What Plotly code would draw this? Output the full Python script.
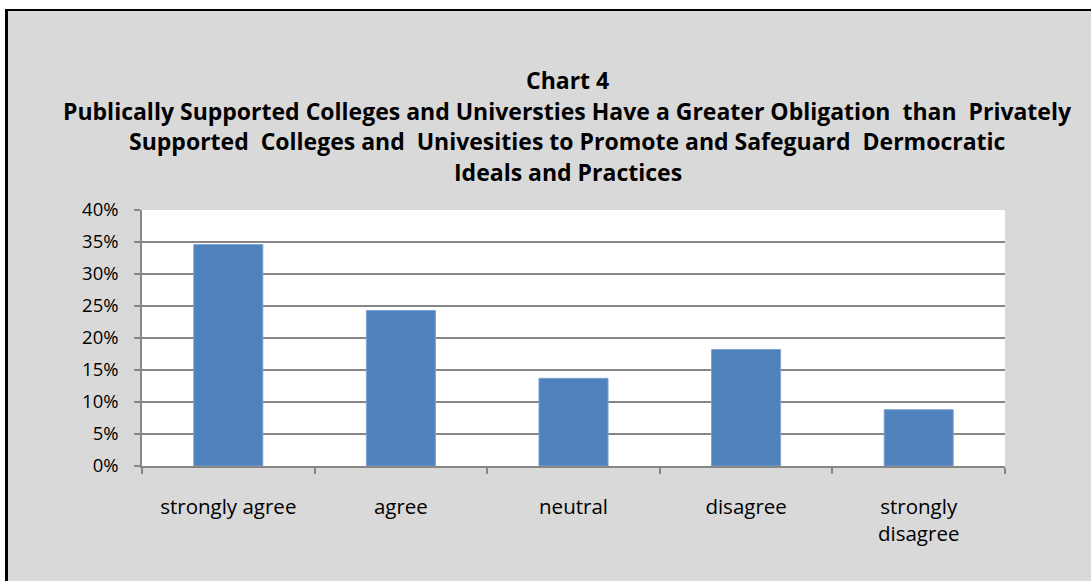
import plotly.graph_objects as go

categories = ["strongly agree", "agree", "neutral", "disagree", "strongly disagree"]
tick_labels = ["strongly agree", "agree", "neutral", "disagree", "strongly<br>disagree"]
values = [0.346, 0.243, 0.137, 0.182, 0.088]
title_lines = [
    "Chart 4",
    "Publically Supported Colleges and Universties Have a Greater Obligation \u00a0than \u00a0Privately",
    "Supported \u00a0Colleges and \u00a0Univesities to Promote and Safeguard \u00a0Dermocratic",
    "Ideals and Practices",
]

W, H = 1091, 581
L, R, T, B = 142, 86, 210, 115
PW, PH = W - L - R, H - T - B

def px2x(px):
    return (px - L) / PW

def py2y(py):
    return (H - B - py) / PH

FONT = "Open Sans"

fig = go.Figure()
fig.add_trace(go.Bar(
    x=categories, y=values,
    marker=dict(color="#4f81bd", line=dict(color="#7ea2d3", width=1)),
    width=0.4,
))

fig.update_layout(
    width=W, height=H,
    margin=dict(l=L, r=R, t=T, b=B),
    paper_bgcolor="#d9d9d9",
    plot_bgcolor="#ffffff",
    showlegend=False,
    font=dict(family=FONT, color="#000000"),
    xaxis=dict(
        type="category",
        tickmode="array", tickvals=categories, ticktext=tick_labels,
        tickson="boundaries",
        ticks="outside", ticklen=6, tickcolor="#868686", tickwidth=1.5,
        showline=True, linecolor="#868686", linewidth=1.5,
        showgrid=False,
        tickfont=dict(family=FONT, size=20.5, color="#000000"),
        ticklabelstandoff=22,
        range=[-0.5, 4.5],
    ),
    yaxis=dict(
        range=[0, 0.4], dtick=0.05, tickformat=".0%",
        ticks="outside", ticklen=6, tickcolor="#868686", tickwidth=1.5,
        showline=True, linecolor="#868686", linewidth=1.5,
        showgrid=True, gridcolor="#868686", gridwidth=1.5,
        zeroline=False,
        tickfont=dict(family=FONT, size=18.5, color="#000000"),
        ticklabelstandoff=12,
    ),
    bargap=0.6,
)

# title, one annotation per line
line_centers = [80, 110.5, 141, 171.5]
for txt, yc in zip(title_lines, line_centers):
    fig.add_annotation(
        text=txt, xref="paper", yref="paper",
        x=px2x(567.5), y=py2y(yc), xanchor="center", yanchor="middle",
        showarrow=False,
        font=dict(family=FONT, size=23, color="#000000", weight="bold"),
    )

# white margin outside the chart frame, and the black frame itself
fig.add_shape(type="rect", xref="paper", yref="paper",
              x0=px2x(-20), x1=px2x(5), y0=py2y(H + 20), y1=py2y(-20),
              fillcolor="#ffffff", line=dict(width=0), layer="above")
fig.add_shape(type="rect", xref="paper", yref="paper",
              x0=px2x(-20), x1=px2x(W + 20), y0=py2y(9), y1=py2y(-20),
              fillcolor="#ffffff", line=dict(width=0), layer="above")
fig.add_shape(type="line", xref="paper", yref="paper",
              x0=px2x(6.5), x1=px2x(6.5), y0=py2y(9), y1=py2y(H + 20),
              line=dict(color="#000000", width=3), layer="above")
fig.add_shape(type="line", xref="paper", yref="paper",
              x0=px2x(5), x1=px2x(W + 20), y0=py2y(10), y1=py2y(10),
              line=dict(color="#000000", width=2), layer="above")

fig.write_html("out.html", config={"displayModeBar": False},
               post_script="document.body.style.margin='0';")
